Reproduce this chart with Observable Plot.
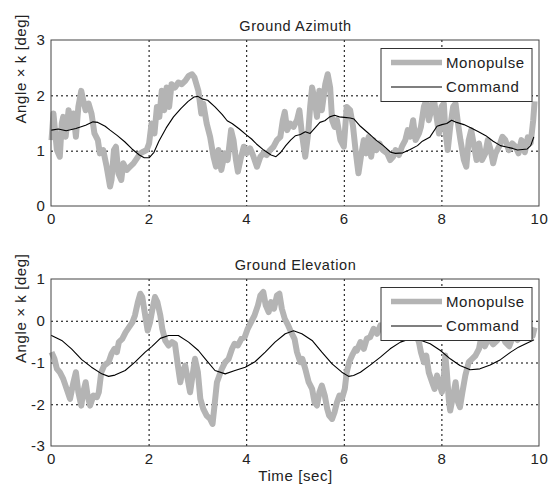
<!DOCTYPE html>
<html>
<head>
<meta charset="utf-8">
<script src="https://cdn.jsdelivr.net/npm/d3@7"></script>
<script src="https://cdn.jsdelivr.net/npm/@observablehq/plot@0.6"></script>
<style>
  html, body { margin: 0; padding: 0; background: white; }
  #wrap { width: 548px; height: 489px; }
  #wrap svg { display: block; }
</style>
</head>
<body>
<div id="wrap"></div>
<script>
// ---------- Data ----------
const xTicks = [0, 2, 4, 6, 8, 10];
const azYTicks = [0, 1, 2, 3];
const elYTicks = [-3, -2, -1, 0, 1];
const titles = ["Ground Azimuth", "Ground Elevation"];
const seriesNames = ["Monopulse", "Command"];

// Ground Azimuth - Monopulse
const azMonoT = [0,0.04,0.11,0.17,0.21,0.24,0.29,0.35,0.40,0.45,0.50,0.55,0.61,0.65,0.70,0.76,0.82,0.88,0.95,0.99,1.06,1.13,1.20,1.23,1.28,1.32,1.37,1.43,1.47,1.54,1.61,1.68,1.75,1.82,1.88,1.95,2.00,2.05,2.11,2.16,2.21,2.26,2.31,2.36,2.41,2.46,2.53,2.60,2.67,2.74,2.81,2.88,2.93,3.01,3.07,3.11,3.18,3.25,3.32,3.37,3.42,3.48,3.55,3.61,3.68,3.73,3.78,3.82,3.87,3.94,4.00,4.07,4.14,4.21,4.28,4.34,4.41,4.48,4.55,4.62,4.69,4.74,4.78,4.83,4.89,4.96,5.03,5.08,5.13,5.20,5.26,5.30,5.34,5.39,5.44,5.49,5.54,5.61,5.66,5.71,5.75,5.80,5.85,5.92,5.99,6.05,6.12,6.18,6.23,6.29,6.34,6.40,6.45,6.50,6.55,6.60,6.66,6.72,6.79,6.88,6.94,7.00,7.05,7.12,7.18,7.25,7.30,7.35,7.41,7.46,7.53,7.57,7.63,7.68,7.73,7.80,7.83,7.89,7.94,7.99,8.04,8.07,8.12,8.17,8.23,8.28,8.33,8.38,8.45,8.50,8.55,8.60,8.65,8.71,8.76,8.82,8.89,8.94,9.00,9.05,9.10,9.17,9.24,9.30,9.37,9.44,9.51,9.57,9.63,9.70,9.76,9.82,9.87,9.90];
const azMonoV = [1.20,1.68,1.02,0.90,1.50,1.62,1.26,1.74,1.44,1.68,1.26,1.80,2.09,1.92,1.74,1.86,1.68,1.32,1.20,0.96,1.02,0.72,0.36,0.48,1.02,1.08,0.60,0.48,0.78,0.66,0.72,0.78,0.87,0.96,0.99,1.02,1.14,1.50,1.32,1.80,1.62,2.09,1.74,2.15,1.80,2.21,2.15,2.24,2.21,2.27,2.36,2.39,2.33,2.09,1.68,1.86,1.50,1.26,0.90,0.72,1.02,0.66,0.96,0.84,1.38,1.20,0.84,0.63,0.84,1.08,0.96,1.05,0.90,0.72,0.90,0.96,0.93,1.02,1.08,1.20,1.26,1.56,1.71,1.38,1.50,1.44,1.56,1.74,1.32,0.90,1.32,1.80,2.15,1.94,1.62,2.09,1.74,2.21,2.39,2.15,1.56,1.44,1.56,1.20,1.08,1.80,1.74,1.44,1.02,0.60,0.90,1.20,0.96,1.26,0.90,1.20,1.02,1.14,1.02,0.96,0.84,0.90,1.02,0.93,1.08,1.20,1.38,1.26,1.56,1.20,1.32,1.44,1.80,1.92,1.56,1.80,1.97,1.62,1.32,1.80,1.86,1.38,1.02,1.44,1.80,1.86,1.50,1.20,0.84,0.72,1.20,1.38,1.14,0.84,1.14,0.84,0.96,1.20,1.02,0.78,0.96,1.08,1.26,1.20,1.02,1.14,1.08,0.96,1.20,0.98,1.25,1.15,1.55,1.90];

// Ground Azimuth - Command
const azCmdT = [0,0.14,0.3,0.5,0.7,0.85,0.95,1.1,1.2,1.35,1.5,1.65,1.8,1.9,2.0,2.1,2.2,2.35,2.5,2.65,2.8,2.92,3.0,3.1,3.2,3.35,3.5,3.6,3.7,3.85,4.0,4.1,4.2,4.35,4.5,4.6,4.7,4.8,4.9,5.0,5.1,5.2,5.3,5.4,5.5,5.6,5.7,5.8,5.9,6.0,6.12,6.2,6.33,6.5,6.65,6.8,6.95,7.05,7.2,7.35,7.5,7.6,7.75,7.9,8.0,8.1,8.2,8.3,8.45,8.6,8.75,8.9,9.05,9.2,9.3,9.45,9.55,9.65,9.75,9.82,9.88];
const azCmdV = [1.38,1.40,1.37,1.41,1.47,1.53,1.52,1.45,1.38,1.28,1.17,1.04,0.93,0.88,0.88,0.98,1.18,1.42,1.62,1.77,1.90,1.98,1.99,1.94,1.92,1.80,1.66,1.55,1.50,1.40,1.29,1.22,1.13,1.02,0.93,0.90,0.98,1.10,1.20,1.28,1.30,1.35,1.32,1.42,1.52,1.55,1.62,1.65,1.62,1.61,1.60,1.58,1.45,1.32,1.20,1.10,0.98,0.96,0.97,1.03,1.10,1.18,1.25,1.45,1.48,1.50,1.56,1.52,1.48,1.42,1.35,1.28,1.18,1.10,1.08,1.05,1.02,1.03,1.04,1.10,1.25];

// Ground Elevation - Monopulse
const elMonoT = [0,0.06,0.11,0.17,0.24,0.31,0.38,0.45,0.50,0.55,0.61,0.65,0.70,0.74,0.79,0.86,0.93,0.97,1.02,1.08,1.17,1.23,1.29,1.34,1.38,1.45,1.52,1.59,1.66,1.71,1.77,1.82,1.86,1.92,1.97,2.02,2.07,2.12,2.17,2.23,2.27,2.33,2.40,2.47,2.53,2.59,2.64,2.68,2.74,2.79,2.84,2.89,2.94,3.00,3.05,3.11,3.18,3.25,3.30,3.34,3.39,3.44,3.49,3.56,3.63,3.70,3.75,3.82,3.89,3.96,4.02,4.09,4.16,4.23,4.28,4.34,4.39,4.45,4.50,4.56,4.62,4.67,4.72,4.78,4.85,4.91,4.98,5.03,5.10,5.14,5.20,5.27,5.34,5.39,5.44,5.49,5.54,5.60,5.65,5.69,5.75,5.80,5.85,5.90,5.95,6.01,6.05,6.10,6.16,6.23,6.26,6.33,6.40,6.46,6.53,6.60,6.67,6.74,6.82,6.90,7.00,7.08,7.16,7.24,7.32,7.40,7.48,7.53,7.57,7.63,7.68,7.73,7.80,7.85,7.90,7.96,8.00,8.04,8.07,8.10,8.14,8.17,8.23,8.28,8.33,8.37,8.42,8.48,8.55,8.62,8.69,8.76,8.80,8.88,8.96,9.05,9.14,9.22,9.30,9.38,9.46,9.55,9.64,9.72,9.80,9.86,9.90];
const elMonoV = [-0.74,-0.90,-1.14,-1.22,-1.38,-1.62,-1.86,-1.46,-1.22,-1.70,-2.02,-1.70,-1.46,-1.78,-2.02,-1.78,-1.82,-1.70,-1.22,-1.06,-0.98,-0.78,-0.66,-0.74,-0.50,-0.42,-0.26,-0.14,-0.02,0.14,0.46,0.66,0.58,0.14,-0.22,-0.02,0.30,0.58,0.46,0.14,-0.18,-0.46,-0.58,-0.50,-0.54,-1.06,-1.46,-1.22,-1.06,-1.38,-1.70,-1.30,-0.90,-1.22,-1.86,-2.10,-2.26,-2.34,-2.46,-2.02,-1.46,-1.30,-1.14,-0.98,-0.90,-0.66,-0.54,-0.58,-0.42,-0.38,-0.18,-0.02,0.14,0.38,0.62,0.70,0.38,0.22,0.46,0.30,0.62,0.66,0.30,0.06,-0.10,-0.26,-0.42,-0.74,-0.98,-0.90,-1.14,-1.46,-1.62,-1.94,-2.02,-1.70,-1.54,-1.78,-2.10,-2.26,-2.34,-2.18,-1.94,-1.78,-1.86,-1.62,-1.22,-0.98,-0.82,-0.66,-0.70,-0.50,-0.66,-0.42,-0.38,-0.18,-0.30,-0.10,-0.20,-0.08,-0.30,-0.15,-0.35,-0.20,-0.10,-0.25,-0.35,-0.50,-0.74,-0.98,-0.82,-1.22,-1.46,-1.62,-1.30,-1.54,-1.70,-1.30,-0.82,-1.20,-1.86,-2.14,-1.78,-1.46,-1.94,-2.06,-1.70,-1.30,-0.98,-0.90,-0.82,-0.66,-0.42,-0.60,-0.40,-0.55,-0.45,-0.30,-0.50,-0.60,-0.35,-0.45,-0.30,-0.40,-0.20,-0.35,-0.15];

// Ground Elevation - Command
const elCmdT = [0,0.21,0.41,0.62,0.82,1.03,1.17,1.30,1.51,1.71,1.92,2.06,2.23,2.40,2.60,2.81,3.01,3.15,3.35,3.56,3.76,3.97,4.17,4.38,4.58,4.79,4.96,5.13,5.34,5.54,5.75,5.95,6.09,6.19,6.33,6.53,6.74,6.94,7.15,7.35,7.55,7.76,7.97,8.17,8.37,8.58,8.78,8.99,9.20,9.41,9.57,9.75,9.88];
const elCmdV = [-0.34,-0.46,-0.66,-0.92,-1.10,-1.26,-1.32,-1.29,-1.18,-0.98,-0.74,-0.60,-0.41,-0.34,-0.34,-0.50,-0.70,-0.90,-1.18,-1.26,-1.18,-1.10,-0.97,-0.74,-0.50,-0.30,-0.23,-0.30,-0.46,-0.74,-1.02,-1.22,-1.32,-1.30,-1.22,-1.05,-0.86,-0.66,-0.50,-0.42,-0.45,-0.54,-0.70,-0.90,-1.06,-1.16,-1.14,-1.05,-0.92,-0.74,-0.62,-0.52,-0.45];

// ---------- Drawing ----------
const FONT = "'Liberation Sans', Arial, Helvetica, sans-serif";
const toRows = (t, v) => t.map((d, i) => ({t: d, v: v[i]}));
const GRAY = "#b4b4b4";

function panel({title, monoT, monoV, cmdT, cmdV, yDomain, yTicks, height, marginTop, marginBottom, xLabel}) {
  const mono = toRows(monoT, monoV);
  const cmd = toRows(cmdT, cmdV);
  const gridY = yTicks.slice(1, -1);
  const gridX = xTicks.slice(1, -1);
  const marks = [
    Plot.gridX(gridX, {stroke: "#000", strokeOpacity: 1, strokeWidth: 1, strokeDasharray: "2,3"}),
    Plot.gridY(gridY, {stroke: "#000", strokeOpacity: 1, strokeWidth: 1, strokeDasharray: "2,3"}),
    Plot.line(mono, {x: "t", y: "v", stroke: GRAY, strokeWidth: 6, strokeLinejoin: "round", strokeLinecap: "butt"}),
    Plot.line(cmd, {x: "t", y: "v", stroke: "#000", strokeWidth: 1.1}),
    Plot.axisX({ticks: xTicks, tickSize: 0, tickPadding: 7, label: null, tickFormat: d => String(d), fontSize: 15}),
    Plot.axisY({ticks: yTicks, tickSize: 0, tickPadding: 6, label: null, tickFormat: d => String(d), fontSize: 15}),
    Plot.text([title], {frameAnchor: "top", dy: -20, text: d => d, fontSize: 14.5, fill: "#222"}),
    Plot.text(["Angle \u00d7 k [deg]"], {frameAnchor: "left", dx: -30, rotate: -90, text: d => d, fontSize: 15, fill: "#222"})
  ];
  if (xLabel) marks.push(Plot.text([xLabel], {frameAnchor: "bottom", dy: 34, text: d => d, fontSize: 15, fill: "#222"}));
  const svg = Plot.plot({
    width: 548,
    height,
    marginTop,
    marginBottom,
    marginLeft: 51,
    marginRight: 9,
    x: {domain: [0, 10]},
    y: {domain: yDomain},
    style: {fontFamily: FONT, fontSize: "15px", color: "#222", background: "white", letterSpacing: "0.6px", overflow: "visible"},
    marks
  });
  const sx = svg.scale("x").range, sy = svg.scale("y").range;
  const root = d3.select(svg);
  // Axes box
  root.append("rect")
    .attr("x", Math.min(...sx)).attr("y", Math.min(...sy))
    .attr("width", Math.abs(sx[1] - sx[0])).attr("height", Math.abs(sy[1] - sy[0]))
    .attr("fill", "none").attr("stroke", "#444").attr("stroke-width", 1);
  // Legend box (opaque, drawn over the data like the original)
  const g = root.append("g").attr("font-family", FONT).attr("font-size", 15)
    .attr("letter-spacing", "0.6px").attr("text-anchor", "start");
  g.append("rect").attr("x", 381).attr("y", marginTop + 8.5).attr("width", 151).attr("height", 53)
    .attr("fill", "white").attr("stroke", "#333").attr("stroke-width", 1);
  const rows = [{name: seriesNames[0], stroke: GRAY, w: 5.5}, {name: seriesNames[1], stroke: "#000", w: 1.1}];
  rows.forEach((r, i) => {
    const y = marginTop + 22.5 + i * 24.5;
    g.append("line").attr("x1", 391).attr("x2", 442).attr("y1", y).attr("y2", y)
      .attr("stroke", r.stroke).attr("stroke-width", r.w);
    g.append("text").attr("x", 446).attr("y", y).attr("dy", "0.35em")
      .attr("text-anchor", "start").attr("fill", "#222").text(r.name);
  });
  return svg;
}

const wrap = document.getElementById("wrap");
wrap.appendChild(panel({
  title: titles[0], monoT: azMonoT, monoV: azMonoV, cmdT: azCmdT, cmdV: azCmdV,
  yDomain: [0, 3], yTicks: azYTicks, height: 240, marginTop: 40, marginBottom: 34
}));
wrap.appendChild(panel({
  title: titles[1], monoT: elMonoT, monoV: elMonoV, cmdT: elCmdT, cmdV: elCmdV,
  yDomain: [-3, 1], yTicks: elYTicks, height: 249, marginTop: 39, marginBottom: 43, xLabel: "Time [sec]"
}));
</script>
</body>
</html>
